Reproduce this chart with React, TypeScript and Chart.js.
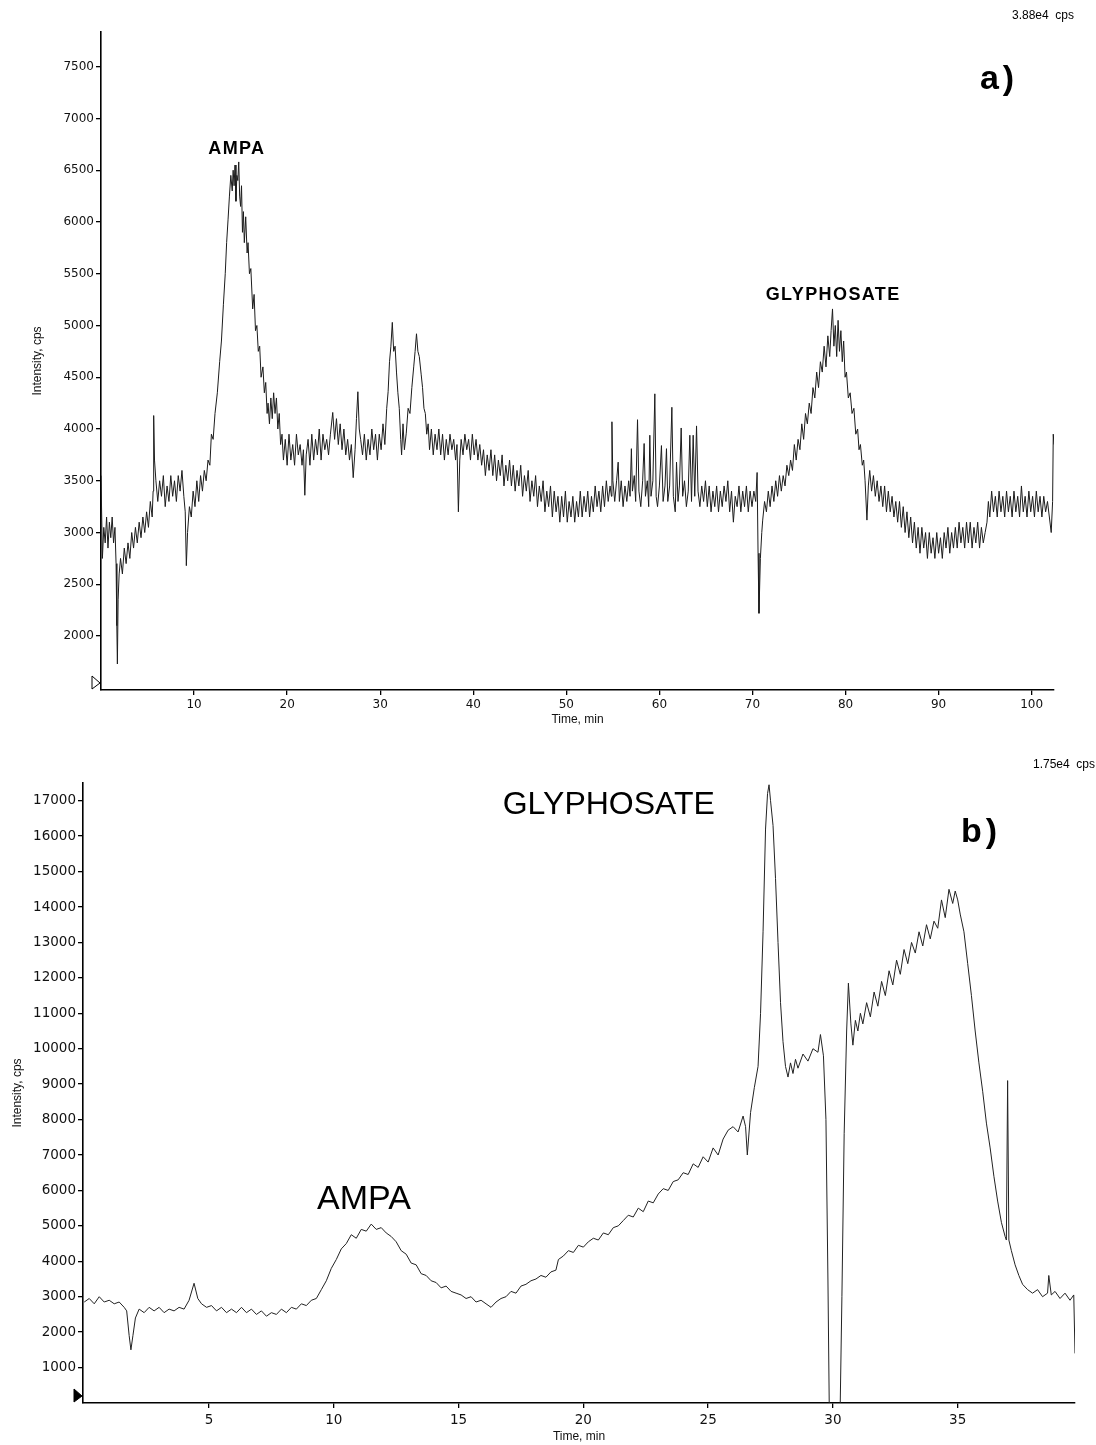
import React, { useEffect, useRef } from "react";
import { Chart, registerables } from "chart.js";

Chart.register(...registerables);

// ---------- Panel a) ----------
const timeA = [
  0.0, 0.15, 0.3, 0.45, 0.6, 0.75, 0.9, 1.05, 1.2, 1.35,
  1.5, 1.62, 1.7, 1.76, 1.84, 1.95, 2.1, 2.3, 2.5, 2.7,
  2.9, 3.1, 3.3, 3.5, 3.7, 3.9, 4.1, 4.3, 4.5, 4.7,
  4.9, 5.1, 5.3, 5.5, 5.6, 5.66, 5.75, 5.9, 6.1, 6.3,
  6.5, 6.7, 6.9, 7.1, 7.3, 7.5, 7.7, 7.9, 8.1, 8.3,
  8.5, 8.7, 8.9, 9.05, 9.17, 9.3, 9.5, 9.7, 9.9, 10.1,
  10.3, 10.5, 10.7, 10.9, 11.1, 11.3, 11.5, 11.7, 11.86, 12.05,
  12.25, 12.5, 12.75, 12.94, 13.15, 13.35, 13.5, 13.65, 13.8, 13.95,
  14.1, 14.2, 14.3, 14.4, 14.5, 14.6, 14.7, 14.8, 14.9, 15.0,
  15.1, 15.2, 15.3, 15.4, 15.55, 15.7, 15.8, 15.95, 16.1, 16.3,
  16.45, 16.6, 16.75, 16.9, 17.05, 17.2, 17.4, 17.55, 17.7, 17.85,
  17.95, 18.1, 18.25, 18.4, 18.55, 18.7, 18.85, 19.0, 19.15, 19.3,
  19.45, 19.6, 19.8, 20.0, 20.2, 20.4, 20.6, 20.8, 21.0, 21.2,
  21.4, 21.6, 21.75, 21.9, 22.05, 22.25, 22.45, 22.65, 22.85, 23.05,
  23.25, 23.45, 23.65, 23.85, 24.05, 24.25, 24.45, 24.65, 24.9, 25.1,
  25.3, 25.5, 25.7, 25.9, 26.1, 26.3, 26.5, 26.7, 26.9, 27.1,
  27.3, 27.45, 27.6, 27.75, 27.9, 28.1, 28.3, 28.5, 28.7, 28.9,
  29.1, 29.3, 29.5, 29.7, 29.9, 30.1, 30.3, 30.5, 30.7, 30.85,
  31.0, 31.15, 31.3, 31.45, 31.6, 31.75, 31.9, 32.05, 32.2, 32.3,
  32.45, 32.6, 32.8, 33.0, 33.2, 33.4, 33.6, 33.75, 33.9, 34.05,
  34.2, 34.4, 34.55, 34.7, 34.85, 35.0, 35.15, 35.3, 35.5, 35.7,
  35.9, 36.1, 36.3, 36.5, 36.7, 36.9, 37.1, 37.3, 37.5, 37.7,
  37.9, 38.1, 38.25, 38.4, 38.55, 38.7, 38.9, 39.1, 39.3, 39.5,
  39.7, 39.9, 40.1, 40.3, 40.5, 40.7, 40.9, 41.1, 41.3, 41.5,
  41.7, 41.9, 42.1, 42.3, 42.5, 42.7, 42.9, 43.1, 43.3, 43.5,
  43.7, 43.9, 44.1, 44.3, 44.5, 44.7, 44.9, 45.1, 45.3, 45.5,
  45.7, 45.9, 46.1, 46.3, 46.5, 46.7, 46.9, 47.1, 47.3, 47.5,
  47.7, 47.9, 48.1, 48.3, 48.5, 48.7, 48.9, 49.1, 49.3, 49.5,
  49.7, 49.9, 50.1, 50.3, 50.5, 50.7, 50.9, 51.1, 51.3, 51.5,
  51.7, 51.9, 52.1, 52.3, 52.5, 52.7, 52.9, 53.1, 53.3, 53.5,
  53.7, 53.9, 54.1, 54.3, 54.5, 54.7, 54.85, 54.9, 55.0, 55.2,
  55.4, 55.57, 55.7, 55.9, 56.1, 56.3, 56.5, 56.7, 56.85, 56.99,
  57.1, 57.3, 57.45, 57.65, 57.8, 58.0, 58.2, 58.36, 58.5, 58.7,
  58.85, 58.97, 59.1, 59.3, 59.51, 59.65, 59.8, 60.0, 60.22, 60.4,
  60.6, 60.76, 60.9, 61.1, 61.34, 61.5, 61.7, 61.84, 62.0, 62.15,
  62.34, 62.5, 62.7, 62.9, 63.1, 63.27, 63.45, 63.63, 63.8, 63.99,
  64.15, 64.35, 64.55, 64.75, 64.95, 65.15, 65.35, 65.55, 65.75, 65.95,
  66.15, 66.35, 66.55, 66.75, 66.95, 67.15, 67.35, 67.55, 67.75, 67.95,
  68.15, 68.35, 68.55, 68.75, 68.95, 69.15, 69.35, 69.55, 69.75, 69.95,
  70.15, 70.35, 70.5, 70.6, 70.7, 70.85, 71.0, 71.1, 71.3, 71.5,
  71.7, 71.9, 72.1, 72.3, 72.5, 72.7, 72.9, 73.1, 73.3, 73.5,
  73.7, 73.9, 74.1, 74.3, 74.5, 74.7, 74.9, 75.1, 75.3, 75.5,
  75.7, 75.9, 76.1, 76.3, 76.5, 76.7, 76.9, 77.1, 77.3, 77.5,
  77.7, 77.9, 78.1, 78.3, 78.45, 78.6, 78.75, 78.9, 79.05, 79.2,
  79.35, 79.5, 79.65, 79.8, 79.95, 80.1, 80.3, 80.5, 80.7, 80.9,
  81.1, 81.3, 81.45, 81.6, 81.8, 81.95, 82.1, 82.3, 82.45, 82.6,
  82.8, 83.0, 83.2, 83.4, 83.6, 83.8, 84.0, 84.2, 84.4, 84.6,
  84.8, 85.0, 85.2, 85.4, 85.6, 85.8, 86.0, 86.2, 86.4, 86.6,
  86.8, 87.0, 87.2, 87.4, 87.6, 87.8, 88.0, 88.2, 88.4, 88.6,
  88.8, 89.0, 89.2, 89.4, 89.6, 89.8, 90.0, 90.2, 90.4, 90.6,
  90.8, 91.0, 91.2, 91.4, 91.6, 91.8, 92.0, 92.2, 92.4, 92.6,
  92.8, 93.0, 93.2, 93.4, 93.6, 93.8, 94.0, 94.2, 94.4, 94.6,
  94.8, 95.0, 95.2, 95.35, 95.5, 95.7, 95.9, 96.1, 96.3, 96.5,
  96.7, 96.9, 97.1, 97.3, 97.5, 97.7, 97.9, 98.1, 98.3, 98.5,
  98.7, 98.9, 99.1, 99.3, 99.5, 99.7, 99.9, 100.1, 100.3, 100.5,
  100.7, 100.9, 101.1, 101.3, 101.5, 101.7, 101.9, 102.1, 102.25, 102.32,
  102.4,
];
const intensityA = [
  3550, 2750, 3050, 2900, 3150, 2850, 3100, 2950, 3150, 2900,
  3050, 2700, 2100, 1730, 2350, 2600, 2750, 2600, 2850, 2700,
  2900, 2750, 3000, 2850, 3050, 2900, 3100, 2950, 3150, 3000,
  3200, 3050, 3300, 3150, 3400, 4130, 3700, 3500, 3300, 3500,
  3350, 3550, 3250, 3450, 3300, 3550, 3350, 3500, 3300, 3550,
  3400, 3600, 3350, 3200, 2680, 3000, 3250, 3150, 3400, 3250,
  3500, 3300, 3550, 3400, 3600, 3500, 3700, 3650, 3950, 3900,
  4150, 4350, 4650, 4850, 5200, 5500, 5800, 6020, 6250, 6450,
  6300, 6500, 6350, 6550, 6200, 6450, 6400, 6580, 6250, 6150,
  6350, 5900, 6100, 5800, 6050, 5700, 5800, 5500, 5550, 5160,
  5300, 4950, 5000, 4750, 4800, 4500, 4600, 4350, 4450, 4150,
  4250, 4050, 4300, 4100, 4350, 4150, 4300, 4000, 4150, 3850,
  3950, 3700, 3900, 3650, 3950, 3700, 3850, 3650, 3950, 3750,
  3850, 3650, 3800, 3360, 3750, 3900, 3650, 3950, 3700, 3900,
  3750, 4000, 3700, 3950, 3800, 3900, 3750, 3950, 4160, 3900,
  4100, 3850, 4050, 3800, 4000, 3750, 3900, 3700, 3850, 3530,
  3800, 4100, 4360, 4000, 3900, 3750, 3950, 3700, 3900, 3750,
  4000, 3800, 3950, 3700, 3950, 3800, 4050, 3850, 4200, 4360,
  4650, 4800, 5030, 4750, 4800, 4550, 4350, 4200, 3900, 3750,
  4050, 3800, 3960, 4200, 4150, 4400, 4600, 4750, 4920, 4750,
  4700, 4530, 4400, 4200, 4150, 3950, 4050, 3800, 4000, 3750,
  3950, 3800, 4000, 3750, 3950, 3700, 3900, 3750, 3950, 3800,
  3900, 3700, 3850, 3200, 3700, 3900, 3750, 3950, 3800, 3900,
  3700, 3950, 3750, 3900, 3700, 3850, 3650, 3800, 3550, 3750,
  3600, 3800, 3550, 3750, 3500, 3700, 3550, 3750, 3450, 3650,
  3500, 3700, 3450, 3650, 3400, 3600, 3450, 3650, 3350, 3550,
  3400, 3600, 3300, 3500, 3350, 3550, 3250, 3450, 3300, 3500,
  3200, 3400, 3250, 3450, 3150, 3400, 3200, 3350, 3100, 3350,
  3150, 3400, 3100, 3300, 3150, 3350, 3100, 3300, 3150, 3400,
  3150, 3350, 3200, 3400, 3150, 3350, 3200, 3450, 3250, 3400,
  3200, 3450, 3250, 3500, 3300, 3450, 3350, 4070, 3500, 3300,
  3500, 3680, 3300, 3500, 3250, 3450, 3300, 3500, 3350, 3810,
  3400, 3550, 3300, 4090, 3400, 3250, 3500, 3860, 3350, 3500,
  3250, 3940, 3350, 3500, 4340, 3350, 3250, 3450, 3840, 3300,
  3450, 3810, 3300, 3450, 4210, 3350, 3200, 3680, 3300, 3450,
  4010, 3350, 3500, 3250, 3400, 3940, 3300, 3940, 3350, 4030,
  3400, 3250, 3450, 3300, 3500, 3250, 3450, 3200, 3400, 3250,
  3450, 3200, 3400, 3250, 3450, 3300, 3500, 3200, 3400, 3100,
  3350, 3250, 3450, 3200, 3400, 3250, 3450, 3200, 3400, 3250,
  3400, 3300, 3580, 2800, 2220, 2750, 3000, 3120, 3300, 3200,
  3400, 3250, 3450, 3300, 3500, 3350, 3550, 3400, 3550, 3450,
  3650, 3550, 3700, 3600, 3850, 3700, 3900, 3800, 4050, 3900,
  4150, 4050, 4250, 4150, 4400, 4300, 4550, 4400, 4650, 4550,
  4800, 4600, 4900, 4700, 4950, 5160, 4800, 5000, 4700, 5050,
  4750, 4950, 4650, 4850, 4500, 4550, 4300, 4350, 4150, 4200,
  3950, 4000, 3800, 3850, 3650, 3700, 3500, 3120, 3450, 3600,
  3400, 3550, 3350, 3500, 3300, 3450, 3250, 3450, 3200, 3400,
  3200, 3350, 3150, 3300, 3100, 3300, 3050, 3250, 3000, 3200,
  2950, 3150, 2900, 3100, 2850, 3050, 2800, 3050, 2850, 3000,
  2750, 3000, 2800, 2950, 2750, 3000, 2800, 2950, 2750, 3000,
  2850, 3050, 2800, 3000, 2850, 3050, 2850, 3100, 2900, 3050,
  2850, 3100, 2900, 3100, 2850, 3050, 2900, 3100, 2850, 3050,
  2900, 3000, 3100, 3300, 3150, 3400, 3200, 3350, 3150, 3400,
  3200, 3350, 3150, 3400, 3200, 3350, 3150, 3400, 3200, 3350,
  3150, 3450, 3200, 3350, 3150, 3400, 3200, 3350, 3150, 3400,
  3200, 3350, 3150, 3350, 3200, 3300, 3150, 3000, 3300, 3950,
  3850,
];
const xTicksA = [10, 20, 30, 40, 50, 60, 70, 80, 90, 100];
const yTicksA = [2000, 2500, 3000, 3500, 4000, 4500, 5000, 5500, 6000, 6500, 7000, 7500];
const peakNamesA = ["AMPA", "GLYPHOSATE"];

// ---------- Panel b) ----------
const timeB = [
  0.0, 0.2, 0.4, 0.6, 0.8, 1.0, 1.2, 1.4, 1.6, 1.7,
  1.8, 1.87, 1.95, 2.05, 2.2, 2.4, 2.6, 2.8, 3.0, 3.2,
  3.4, 3.6, 3.8, 4.0, 4.2, 4.4, 4.55, 4.7, 4.9, 5.1,
  5.3, 5.5, 5.7, 5.9, 6.1, 6.3, 6.5, 6.7, 6.9, 7.1,
  7.3, 7.5, 7.7, 7.9, 8.1, 8.3, 8.5, 8.7, 8.9, 9.1,
  9.3, 9.5, 9.7, 9.9, 10.1, 10.3, 10.5, 10.7, 10.9, 11.1,
  11.3, 11.5, 11.7, 11.9, 12.1, 12.3, 12.5, 12.7, 12.9, 13.1,
  13.3, 13.5, 13.7, 13.9, 14.1, 14.3, 14.5, 14.7, 14.9, 15.1,
  15.3, 15.5, 15.7, 15.9, 16.1, 16.3, 16.5, 16.7, 16.9, 17.1,
  17.3, 17.5, 17.7, 17.9, 18.1, 18.3, 18.5, 18.7, 18.9, 19.0,
  19.2, 19.4, 19.6, 19.8, 20.0, 20.2, 20.4, 20.6, 20.8, 21.0,
  21.2, 21.4, 21.6, 21.8, 22.0, 22.2, 22.4, 22.6, 22.8, 23.0,
  23.2, 23.4, 23.6, 23.8, 24.0, 24.2, 24.4, 24.6, 24.8, 25.0,
  25.2, 25.4, 25.6, 25.8, 26.0, 26.2, 26.4, 26.5, 26.57, 26.7,
  26.85, 27.0, 27.1, 27.2, 27.3, 27.38, 27.44, 27.5, 27.6, 27.7,
  27.8, 27.9, 28.0, 28.1, 28.2, 28.3, 28.4, 28.5, 28.6, 28.8,
  29.0, 29.2, 29.4, 29.5, 29.62, 29.72, 29.8, 29.86, 30.28, 30.36,
  30.45, 30.55, 30.62, 30.72, 30.8, 30.9, 31.0, 31.1, 31.2, 31.35,
  31.5, 31.65, 31.8, 31.95, 32.1, 32.25, 32.4, 32.55, 32.7, 32.85,
  33.0, 33.15, 33.3, 33.45, 33.6, 33.75, 33.9, 34.05, 34.2, 34.35,
  34.5, 34.65, 34.8, 34.9, 35.0, 35.1, 35.25, 35.4, 35.55, 35.7,
  35.85, 36.0, 36.15, 36.3, 36.45, 36.6, 36.75, 36.9, 36.95, 37.0,
  37.05, 37.15, 37.3, 37.45, 37.6, 37.8, 38.0, 38.2, 38.4, 38.6,
  38.65, 38.75, 38.9, 39.1, 39.3, 39.5, 39.65, 39.7,
];
const intensityB = [
  2850, 2950, 2800, 3000, 2850, 2900, 2800, 2850, 2700, 2600,
  1900, 1500, 1900, 2400, 2650, 2550, 2700, 2600, 2700, 2550,
  2650, 2600, 2700, 2650, 2900, 3380, 2950, 2800, 2700, 2750,
  2600, 2700, 2550, 2650, 2550, 2700, 2550, 2650, 2500, 2600,
  2450, 2550, 2500, 2650, 2550, 2700, 2650, 2800, 2750, 2900,
  2950, 3200, 3450, 3800, 4050, 4350, 4500, 4750, 4650, 4900,
  4850, 5050, 4900, 4950, 4800, 4700, 4550, 4300, 4200, 3950,
  3900, 3650, 3600, 3450, 3400, 3250, 3300, 3150, 3100, 3050,
  2950, 3000, 2850, 2900, 2800, 2700, 2850, 2950, 3000, 3150,
  3100, 3300, 3350, 3450, 3500, 3600, 3550, 3700, 3750, 4050,
  4150, 4300, 4250, 4450, 4400, 4550, 4650, 4600, 4800, 4750,
  4950, 5000, 5150, 5300, 5250, 5500, 5400, 5700, 5650, 5900,
  6050, 6000, 6250, 6300, 6500, 6450, 6750, 6650, 6950, 6800,
  7200, 7000, 7450, 7700, 7800, 7650, 8100, 7800, 7000, 8200,
  8900, 9500, 11000, 13300, 16200, 17200, 17450, 17000, 16300, 14800,
  13000, 11300, 10200, 9500, 9200, 9600, 9300, 9700, 9450, 9850,
  9650, 10000, 9900, 10400, 9800, 8000, 3500, -600, -600, 3000,
  7600, 10500, 11850, 10700, 10100, 10800, 10500, 11000, 10700, 11300,
  10900, 11600, 11200, 11900, 11500, 12200, 11800, 12500, 12100, 12800,
  12400, 13000, 12700, 13300, 12900, 13500, 13100, 13600, 13400, 14200,
  13700, 14500, 14100, 14450, 14200, 13800, 13300, 12400, 11500, 10500,
  9600, 8800, 7900, 7200, 6400, 5700, 5100, 4700, 4600, 9100,
  4600, 4300, 3900, 3600, 3350, 3200, 3100, 3200, 3000, 3100,
  3600, 3050, 3150, 2950, 3100, 2900, 3050, 1400,
];
const xTicksB = [5, 10, 15, 20, 25, 30, 35];
const yTicksB = [1000, 2000, 3000, 4000, 5000, 6000, 7000, 8000, 9000, 10000, 11000, 12000, 13000, 14000, 15000, 16000, 17000];
const peakNamesB = ["AMPA", "GLYPHOSATE"];

const SANS = "'Liberation Sans', Arial, sans-serif";
const TICKFONT = "'DejaVu Sans', sans-serif";

type TextItem = {
  text: string;
  font: string;
  spacing?: string;
  align?: CanvasTextAlign;
  dx?: number;
  dy?: number;
  px?: number;
  py?: number;
};

function makeOverlay(texts: TextItem[], filledTriangle: boolean) {
  return {
    id: "overlay",
    afterDraw(chart: any) {
      const ctx: CanvasRenderingContext2D = chart.ctx;
      const xs = chart.scales.x;
      const ys = chart.scales.y;
      const area = chart.chartArea;
      ctx.save();
      ctx.fillStyle = "#000";
      ctx.textBaseline = "middle";
      for (const t of texts) {
        ctx.font = t.font;
        (ctx as any).letterSpacing = t.spacing || "0px";
        ctx.textAlign = t.align || "center";
        const x = t.dx !== undefined ? xs.getPixelForValue(t.dx) : (t.px as number);
        const y = t.dy !== undefined ? ys.getPixelForValue(t.dy) : (t.py as number);
        ctx.fillText(t.text, x, y);
      }
      (ctx as any).letterSpacing = "0px";
      ctx.beginPath();
      ctx.moveTo(area.left - 9, area.bottom - 14);
      ctx.lineTo(area.left - 1, area.bottom - 7);
      ctx.lineTo(area.left - 9, area.bottom - 1);
      ctx.closePath();
      ctx.lineWidth = 1;
      ctx.strokeStyle = "#000";
      if (filledTriangle) ctx.fill();
      ctx.stroke();
      ctx.restore();
    },
  };
}

function axisCommon(fontSize: number, pad: number) {
  return {
    grid: { display: true, drawOnChartArea: false, drawTicks: true, tickLength: 5, color: "#000", lineWidth: 1.3 },
    border: { display: true, color: "#000", width: 1.6 },
    ticks: {
      color: "#111",
      font: { family: TICKFONT, size: fontSize },
      padding: pad,
      maxRotation: 0,
      autoSkip: false,
      callback: (v: any) => String(v),
    },
  };
}

function buildConfig(
  time: number[],
  values: number[],
  xTicks: number[],
  yTicks: number[],
  xMin: number,
  xMax: number,
  yMin: number,
  yMax: number,
  yWidth: number,
  xHeight: number,
  padding: any,
  tickSize: number,
  xPad: number,
  lineColor: string,
  overlay: any
) {
  const data = time.map((t, i) => ({ x: t, y: values[i] }));
  const xc = axisCommon(tickSize, xPad);
  const yc = axisCommon(tickSize, 2);
  return {
    type: "line",
    data: {
      datasets: [
        {
          data,
          borderColor: lineColor,
          borderWidth: 1,
          pointRadius: 0,
          tension: 0,
          fill: false,
        },
      ],
    },
    options: {
      responsive: false,
      animation: false,
      events: [],
      layout: { padding },
      plugins: { legend: { display: false }, tooltip: { enabled: false } },
      scales: {
        x: {
          type: "linear",
          min: xMin,
          max: xMax,
          ...xc,
          afterBuildTicks: (s: any) => {
            s.ticks = xTicks.map((v) => ({ value: v }));
          },
          afterFit: (s: any) => {
            s.height = xHeight;
          },
          title: {
            display: true,
            text: "Time, min",
            color: "#111",
            font: { family: SANS, size: 12 },
            padding: { top: 0, bottom: 0 },
          },
        },
        y: {
          type: "linear",
          min: yMin,
          max: yMax,
          ...yc,
          afterBuildTicks: (s: any) => {
            s.ticks = yTicks.map((v) => ({ value: v }));
          },
          afterFit: (s: any) => {
            s.width = yWidth;
          },
          title: {
            display: true,
            text: "Intensity, cps",
            color: "#111",
            font: { family: SANS, size: 12 },
            padding: { top: 4, bottom: 0 },
          },
        },
      },
    },
    plugins: [overlay],
  };
}

function Panel(props: { top: number; height: number; make: () => any }) {
  const ref = useRef<HTMLCanvasElement | null>(null);
  useEffect(() => {
    if (!ref.current) return;
    const chart = new Chart(ref.current, props.make());
    return () => chart.destroy();
  }, []);
  return (
    <canvas
      ref={ref}
      width={1096}
      height={props.height}
      style={{ position: "absolute", left: 0, top: props.top, width: 1096, height: props.height }}
    />
  );
}

export default function App() {
  const makeA = () =>
    buildConfig(
      timeA,
      intensityA,
      xTicksA,
      yTicksA,
      0,
      102.4,
      1479,
      7835,
      75,
      37,
      { left: 26, right: 42, top: 32, bottom: 0 },
      12,
      3,
      "#1c1c1c",
      makeOverlay(
        [
          { text: peakNamesA[0], font: `bold 18px ${SANS}`, spacing: "1.4px", dx: 14.6, dy: 6705 },
          { text: peakNamesA[1], font: `bold 18px ${SANS}`, spacing: "1.4px", dx: 78.67, dy: 5294 },
          { text: "a)", font: `bold 34px ${SANS}`, spacing: "4px", px: 999, py: 80 },
          { text: "3.88e4  cps", font: `12px ${SANS}`, align: "right", px: 1074, py: 16 },
        ],
        false
      )
    );
  const makeB = () =>
    buildConfig(
      timeB,
      intensityB,
      xTicksB,
      yTicksB,
      -0.05,
      39.7,
      0,
      17500,
      77,
      41,
      { left: 6, right: 21, top: 43, bottom: 0 },
      13.5,
      4,
      "#222",
      makeOverlay(
        [
          { text: peakNamesB[1], font: `32px ${SANS}`, dx: 21.02, dy: 16879 },
          { text: peakNamesB[0], font: `34px ${SANS}`, dx: 11.21, dy: 5730 },
          { text: "b)", font: `bold 34px ${SANS}`, spacing: "4px", px: 981, py: 93 },
          { text: "1.75e4  cps", font: `12px ${SANS}`, align: "right", px: 1095, py: 25 },
        ],
        true
      )
    );
  return (
    <div
      style={{
        position: "absolute",
        left: 0,
        top: 0,
        width: 1096,
        height: 1445,
        overflow: "hidden",
        background: "#fff",
      }}
    >
      <Panel top={0} height={727} make={makeA} />
      <Panel top={740} height={704} make={makeB} />
    </div>
  );
}
